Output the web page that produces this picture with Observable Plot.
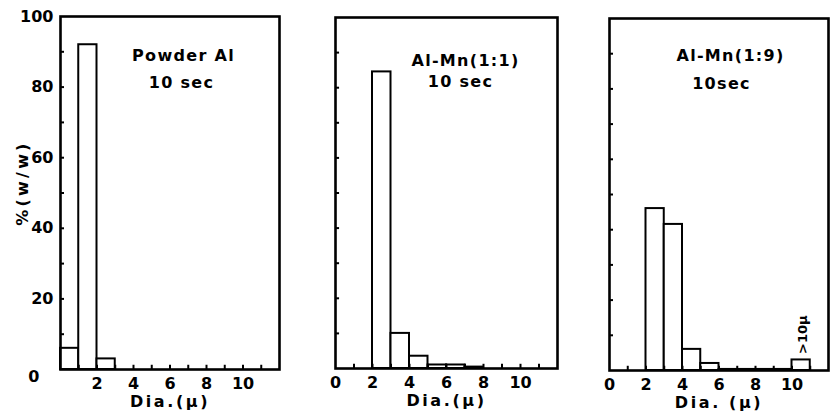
<!DOCTYPE html>
<html>
<head>
<meta charset="utf-8">
<script src="https://cdn.jsdelivr.net/npm/d3@7"></script>
<script src="https://cdn.jsdelivr.net/npm/@observablehq/plot@0.6"></script>
<style>
  html, body { margin: 0; padding: 0; background: #fff; }
  #chart { position: relative; width: 837px; height: 415px; }
  #chart svg { position: absolute; top: 0; }
  g[aria-description="title"] text { letter-spacing: 1.3px; }
  g[aria-description="xtitle"] text { letter-spacing: 2.6px; }
  g[aria-description="ytitle"] text { letter-spacing: 3.2px; }
</style>
</head>
<body>
<div id="chart"></div>
<script>
// ---- data ----
const titles = ["Powder Al", "Al-Mn(1:1)", "Al-Mn(1:9)"];
const durations = ["10 sec", "10 sec", "10sec"];
const xTitles = ["Dia.(\u03bc)", "Dia.(\u03bc)", "Dia. (\u03bc)"];
const yTitle = "%(w/w)";

const binStart1 = [0, 1, 2];
const binEnd1   = [1, 2, 3];
const values1   = [6, 92, 3];

const binStart2 = [2, 3, 4, 5, 6, 7];
const binEnd2   = [3, 4, 5, 6, 7, 8];
const values2   = [84.5, 10, 3.5, 1, 1, 0.4];

const binStart3 = [2, 3, 4, 5, 6, 7, 8, 9, 10];
const binEnd3   = [3, 4, 5, 6, 7, 8, 9, 10, 11];
const values3   = [46, 41.5, 6, 2, 0.3, 0.3, 0.3, 0.3, 3];
const overflowLabel = ">10\u03bc";

const xTickLabels1 = [2, 4, 6, 8, 10];
const xTickLabels23 = [0, 2, 4, 6, 8, 10];
const xMinorTicks = [1, 2, 3, 4, 5, 6, 7, 8, 9, 10, 11];
const yTickLabels = [20, 40, 60, 80, 100];
const yZeroLabel = [0];
const yMinorTicks = [10, 20, 30, 40, 50, 60, 70, 80, 90];

function bins(s, e, v) { return s.map((d, i) => ({x1: d, x2: e[i], y: v[i]})); }

// ---- layout per panel ----
const layout = [
  {left: 0,   width: 285, ml: 60, mr: 6, mt: 16, mb: 46, t1: [123, 39], t2: [121, 66]},
  {left: 280, width: 280, ml: 55, mr: 3, mt: 17, mb: 47, t1: [130, 43], t2: [125, 64]},
  {left: 560, width: 277, ml: 49, mr: 9, mt: 18, mb: 45, t1: [121, 37], t2: [112, 65]}
];

const data = [bins(binStart1, binEnd1, values1), bins(binStart2, binEnd2, values2), bins(binStart3, binEnd3, values3)];

const chart = document.getElementById("chart");

layout.forEach((L, i) => {
  const marks = [
    Plot.rectY(data[i], {x1: "x1", x2: "x2", y: "y", fill: "white", stroke: "black", strokeWidth: 2}),
    Plot.ruleY(yMinorTicks, {x1: 0, x2: 0.22, stroke: "black", strokeWidth: 2}),
    Plot.ruleX(xMinorTicks, {y1: 0, y2: 1.2, stroke: "black", strokeWidth: 2}),
    Plot.frame({stroke: "black", strokeWidth: 2.6}),
    Plot.axisX({ticks: i === 0 ? xTickLabels1 : xTickLabels23, tickSize: 0, tickPadding: 8, fontSize: 16, fontWeight: "bold", label: null}),
    Plot.text([titles[i]], {frameAnchor: "top-left", dx: L.t1[0], dy: L.t1[1], textAnchor: "middle", lineAnchor: "middle", fontSize: 16, fontWeight: "bold", ariaDescription: "title"}),
    Plot.text([durations[i]], {frameAnchor: "top-left", dx: L.t2[0], dy: L.t2[1], textAnchor: "middle", lineAnchor: "middle", fontSize: 16, fontWeight: "bold", ariaDescription: "title"}),
    Plot.text([xTitles[i]], {frameAnchor: "bottom", dy: 32, lineAnchor: "middle", textAnchor: "middle", fontSize: 16, fontWeight: "bold", ariaDescription: "xtitle"})
  ];
  if (i === 0) {
    marks.push(
      Plot.axisY({ticks: yTickLabels, tickSize: 0, tickPadding: 7, fontSize: 16, fontWeight: "bold", label: null}),
      Plot.text(yZeroLabel, {x: 0, y: d => d, text: d => String(d), dx: -21, dy: 7, textAnchor: "end", fontSize: 16, fontWeight: "bold"}),
      Plot.text([yTitle], {frameAnchor: "left", rotate: -90, dx: -38, dy: -10, textAnchor: "middle", lineAnchor: "middle", fontSize: 16, fontWeight: "bold", ariaDescription: "ytitle"})
    );
  }
  if (i === 2) {
    const last = data[2][data[2].length - 1];
    marks.push(Plot.text([last], {x: d => (d.x1 + d.x2) / 2, y: "y", text: () => overflowLabel, rotate: -90, textAnchor: "start", dx: 2, dy: -6, fontSize: 13, fontWeight: "bold"}));
  }
  const svg = Plot.plot({
    width: L.width,
    height: 415,
    marginLeft: L.ml,
    marginRight: L.mr,
    marginTop: L.mt,
    marginBottom: L.mb,
    x: {domain: [0, 12], axis: null},
    y: {domain: [0, 100], axis: null},
    style: {fontFamily: "DejaVu Sans", fontWeight: "bold", fontSize: "15px", color: "black", background: "transparent", overflow: "visible"},
    marks
  });
  svg.style.left = L.left + "px";
  chart.appendChild(svg);
});
</script>
</body>
</html>
